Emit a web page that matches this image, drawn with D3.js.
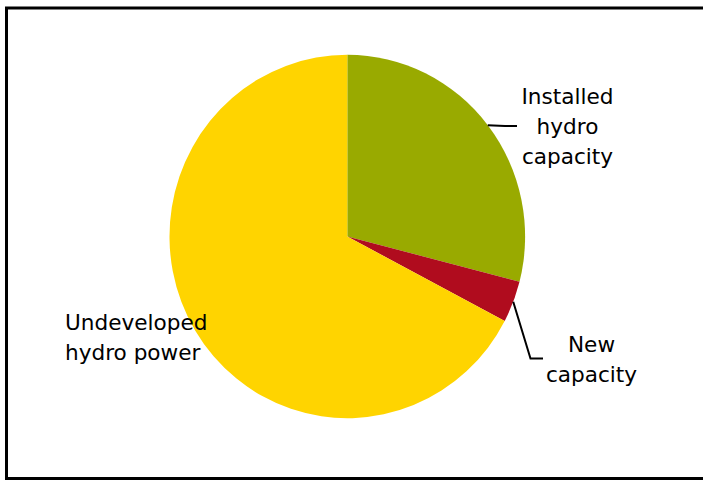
<!DOCTYPE html>
<html>
<head>
<meta charset="utf-8">
<script src="https://cdn.jsdelivr.net/npm/d3@7"></script>
<style>
  body { margin: 0; background: #fff; overflow: hidden; }
  text { font-family: "DejaVu Sans", Verdana, sans-serif; font-size: 21.6px; fill: #000; }
</style>
</head>
<body>
<div id="chart"></div>
<script>
// Chart data
const categories = ["Installed hydro capacity", "New capacity", "Undeveloped hydro power"];
const shares = [29.0, 3.7, 67.3];
const colors = ["#99aa00", "#b00c1e", "#ffd400"];

// label lines as drawn, per slice
const labelLines = [["Installed", "hydro", "capacity"], ["New", "capacity"], ["Undeveloped", "hydro power"]];

const width = 703, height = 480;
const cx = 347.3, cy = 236.5;
const radius = 177.8;
const yStretch = 1.022; // pie is slightly taller than wide

const svg = d3.select("#chart")
  .append("svg")
  .attr("width", width)
  .attr("height", height)
  .style("display", "block");

// frame (right side runs off the picture)
svg.append("rect")
  .attr("x", 6.5).attr("y", 8)
  .attr("width", 720).attr("height", 470.5)
  .attr("fill", "none")
  .attr("stroke", "#000")
  .attr("stroke-width", 3);

const pie = d3.pie().sort(null).value(d => d);
const arcs = pie(shares);
const arc = d3.arc().innerRadius(0).outerRadius(radius);

const g = svg.append("g")
  .attr("transform", `translate(${cx}, ${cy}) scale(1, ${yStretch})`);

g.selectAll("path")
  .data(arcs)
  .enter().append("path")
    .attr("d", arc)
    .attr("fill", (d, i) => colors[i]);

// point on the pie edge at the middle of a slice
function edgePoint(d) {
  const a = (d.startAngle + d.endAngle) / 2;
  return [cx + radius * Math.sin(a), cy - radius * Math.cos(a) * yStretch];
}

// leader lines: first point on the edge, then elbow points
const leaders = [
  { slice: 0, pts: [[505, 126], [517, 126]] },
  { slice: 1, pts: [[530.5, 358.5], [543, 358.5]] }
];

leaders.forEach(l => {
  const p = [edgePoint(arcs[l.slice])].concat(l.pts);
  svg.append("path")
    .attr("d", d3.line()(p))
    .attr("fill", "none")
    .attr("stroke", "#000")
    .attr("stroke-width", 2);
});

// labels
const labelPos = [
  { x: 567.5, y: 104, anchor: "middle" },
  { x: 591.5, y: 352, anchor: "middle" },
  { x: 65, y: 329.5, anchor: "start" }
];

labelLines.forEach((lines, i) => {
  const t = svg.append("text")
    .attr("x", labelPos[i].x)
    .attr("y", labelPos[i].y)
    .attr("text-anchor", labelPos[i].anchor);
  lines.forEach((s, j) => {
    t.append("tspan")
      .attr("x", labelPos[i].x)
      .attr("dy", j === 0 ? 0 : 30)
      .text(s);
  });
});
</script>
</body>
</html>
